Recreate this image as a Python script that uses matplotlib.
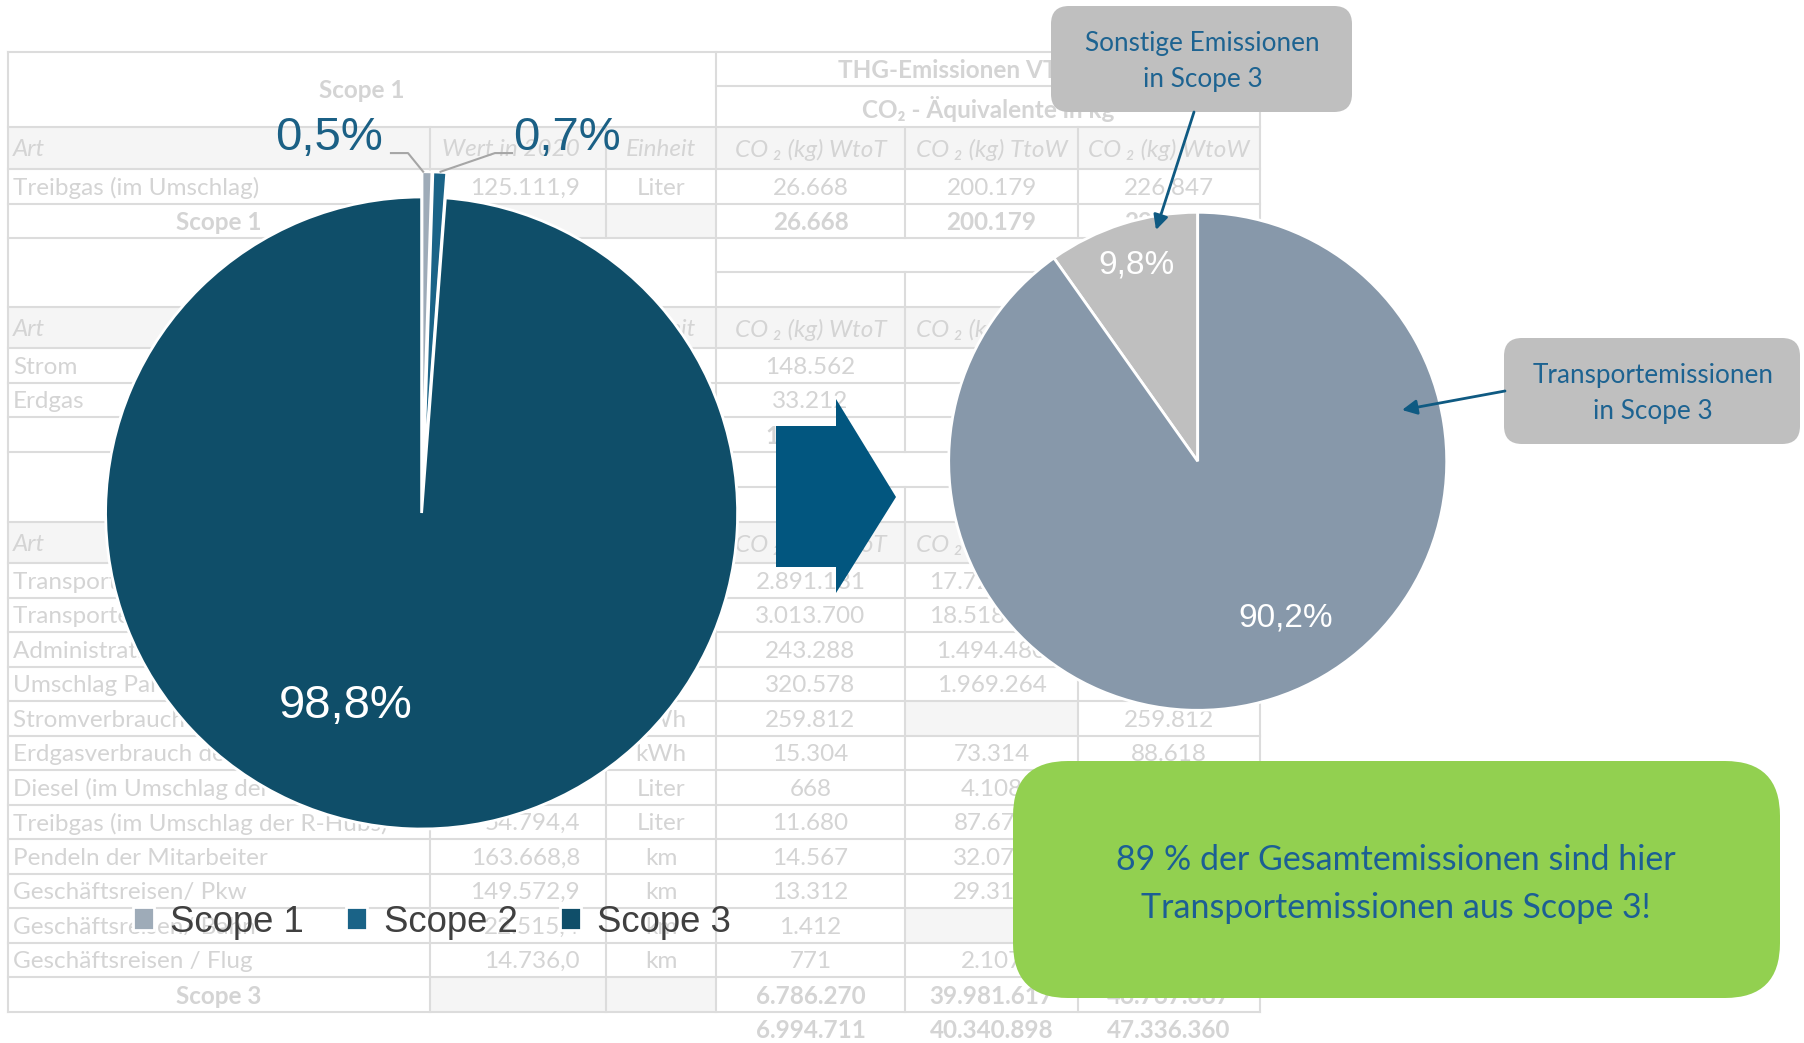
import matplotlib
matplotlib.use('Agg')
import matplotlib.pyplot as plt
from matplotlib.patches import Rectangle, FancyBboxPatch, Polygon

# ---- chart data ----
scope_names = ['Scope 1', 'Scope 2', 'Scope 3']
scope_share = [0.5, 0.7, 98.8]
scope_colors = ['#9eabb8', '#1a6387', '#0f4e69']

s3_parts = ['Sonstige Emissionen\nin Scope 3', 'Transportemissionen\nin Scope 3']
s3_share = [9.8, 90.2]
s3_colors = ['#bfbfbf', '#8798aa']

message = '89 % der Gesamtemissionen sind hier\nTransportemissionen aus Scope 3!'

# ---- faded table behind the charts ----
head_cols = ['Art', 'Wert in 2020', 'Einheit', 'CO ₂ (kg) WtoT', 'CO ₂ (kg) TtoW', 'CO ₂ (kg) WtoW']
s1_art = ['Treibgas (im Umschlag)']
s1_wert = ['125.111,9']
s1_unit = ['Liter']
s1_wtot = ['26.668']
s1_ttow = ['200.179']
s1_wtow = ['226.847']
s1_sum = ['26.668', '200.179', '226.847']

s2_art = ['Strom', 'Erdgas']
s2_wert = ['', '']
s2_unit = ['kWh', 'kWh']
s2_wtot = ['148.562', '33.212']
s2_ttow = ['', '']
s2_wtow = ['', '']
s2_sum = ['181.774', '', '']

s3_art = ['Transportemissionen Partner', 'Transporte eigene Flotte', 'Administration Partner',
          'Umschlag Partner', 'Stromverbrauch der R-Hubs', 'Erdgasverbrauch der R-Hubs',
          'Diesel (im Umschlag der R-Hubs)', 'Treibgas (im Umschlag der R-Hubs)',
          'Pendeln der Mitarbeiter', 'Geschäftsreisen/ Pkw', 'Geschäftsreisen/ Bahn',
          'Geschäftsreisen / Flug']
s3_wert = ['', '', '', '', '', '', '', '54.794,4', '163.668,8', '149.572,9', '22.515,4', '14.736,0']
s3_unit = ['', '', '', '', 'kWh', 'kWh', 'Liter', 'Liter', 'km', 'km', 'km', 'km']
s3_wtot = ['2.891.181', '3.013.700', '243.288', '320.578', '259.812', '15.304', '668',
           '11.680', '14.567', '13.312', '1.412', '771']
s3_ttow = ['17.726.311', '18.518.005', '1.494.480', '1.969.264', '', '73.314', '4.108',
           '87.671', '32.074', '29.313', '', '2.107']
s3_wtow = ['', '', '', '', '259.812', '88.618', '', '', '', '', '', '']
s3_sum = ['6.786.270', '39.981.617', '46.767.887']
totals = ['6.994.711', '40.340.898', '47.336.360']

W, H = 1804, 1043
fig = plt.figure(figsize=(W / 100, H / 100), dpi=100)

TFONT = ['Lato', 'DejaVu Sans']
PFONT = ['Liberation Sans', 'DejaVu Sans']
TSIZE = 17.5
tcol = '#d4d4d4'
lcol = '#dcdcdc'
fill = '#f5f5f5'

# background axes in pixel coords
bg = fig.add_axes([0, 0, 1, 1])
bg.set_xlim(0, W)
bg.set_ylim(H, 0)
bg.axis('off')
bg.set_zorder(0)

X = [8, 430, 606, 716, 905, 1078, 1260]
RH = 34.5


def put(col, yc, s, bold=False, italic=False):
    if not s:
        return
    if col == 0:
        x, ha = X[0] + 5, 'left'
    elif col == 1:
        x, ha = 580, 'right'
    else:
        x, ha = (X[col] + X[col + 1]) / 2, 'center'
    bg.text(x, yc + 2, s, ha=ha, va='center', fontsize=TSIZE, color=tcol, family=TFONT,
            fontweight='bold' if bold else 'normal', fontstyle='italic' if italic else 'normal')


def box(x0, x1, y0, y1):
    bg.add_patch(Rectangle((x0, y0), x1 - x0, y1 - y0, color=fill, lw=0))


# grey cells
for y0, y1 in [(127, 169), (307, 348), (522, 563)]:
    box(X[0], X[6], y0, y1)
box(X[1], X[3], 204, 238)
box(X[1], X[3], 417, 451.5)
box(X[1], X[3], 977, 1011.5)
box(X[4], X[5], 563 + 4 * RH, 563 + 5 * RH)
box(X[4], X[5], 563 + 10 * RH, 563 + 11 * RH)

# grid lines
hlines = [(52, 0, 6), (86, 3, 6), (127, 0, 6), (169, 0, 6), (204, 0, 6), (238, 0, 6),
          (272, 3, 6), (307, 0, 6), (348, 0, 6), (382.5, 0, 6), (417, 0, 6), (451.5, 0, 6),
          (487, 3, 6), (522, 0, 6)]
hlines += [(563 + i * RH, 0, 6) for i in range(14)]
for y, a, b in hlines:
    bg.plot([X[a], X[b]], [y, y], color=lcol, lw=1.5)
for x in [X[0], X[3], X[6]]:
    bg.plot([x, x], [52, 1011.5], color=lcol, lw=1.5)
for x in [X[1], X[2], X[4], X[5]]:
    for y0, y1 in [(127, 238), (307, 451.5), (522, 1011.5)]:
        bg.plot([x, x], [y0, y1], color=lcol, lw=1.5)
for y0, y1 in [(272, 307), (487, 522)]:
    bg.plot([X[4], X[4]], [y0, y1], color=lcol, lw=1.5)

# header text
bg.text((X[0] + X[3]) / 2, 91, 'Scope 1', ha='center', va='center', fontsize=TSIZE,
        color=tcol, family=TFONT, fontweight='bold')
bg.text((X[3] + X[6]) / 2, 70, 'THG-Emissionen VTG 2020', ha='center', va='center',
        fontsize=TSIZE, color=tcol, family=TFONT, fontweight='bold')
bg.text((X[3] + X[6]) / 2, 109, 'CO₂ - Äquivalente in kg', ha='center', va='center',
        fontsize=TSIZE, color=tcol, family=TFONT, fontweight='bold')

for yc in [148, 327.5, 542.5]:
    for c, s in enumerate(head_cols):
        put(c, yc, s, italic=True)


def section(y0, art, wert, unit, wtot, ttow, wtow):
    for i in range(len(art)):
        yc = y0 + (i + 0.5) * RH
        for c, s in enumerate([art[i], wert[i], unit[i], wtot[i], ttow[i], wtow[i]]):
            put(c, yc, s)


section(169, s1_art, s1_wert, s1_unit, s1_wtot, s1_ttow, s1_wtow)
section(348, s2_art, s2_wert, s2_unit, s2_wtot, s2_ttow, s2_wtow)
section(563, s3_art, s3_wert, s3_unit, s3_wtot, s3_ttow, s3_wtow)

for yc, name, vals in [(221, 'Scope 1', s1_sum), (434, 'Scope 2', s2_sum),
                       (994, 'Scope 3', s3_sum), (1028, '', totals)]:
    if name:
        bg.text((X[0] + X[1]) / 2, yc + 2, name, ha='center', va='center', fontsize=TSIZE,
                color=tcol, family=TFONT, fontweight='bold')
    for c, s in enumerate(vals):
        put(c + 3, yc, s, bold=True)


# ---- pies ----
def pie_axes(cx, cy, r, lim=1.3):
    side = 2 * r * lim
    a = fig.add_axes([(cx - side / 2) / W, 1 - (cy + side / 2) / H, side / W, side / H])
    a.set_zorder(2)
    return a


def pct(v):
    return f'{v:.1f}%'.replace('.', ',')


ax1 = pie_axes(421.6, 513, 316)
wedges1, _ = ax1.pie(scope_share, colors=scope_colors, startangle=90, counterclock=False,
                     explode=[0.08, 0.08, 0], wedgeprops=dict(edgecolor='white', linewidth=2))
ax1.set_xlim(-1.3, 1.3)
ax1.set_ylim(-1.3, 1.3)
ax1.text(-0.24, -0.61, pct(scope_share[2]), ha='center', va='center', fontsize=34,
         color='white', family=PFONT)
ax1.text(-0.293, 1.187, pct(scope_share[0]), ha='center', va='center', fontsize=34,
         color='#1b6085', family=PFONT)
ax1.text(0.461, 1.187, pct(scope_share[1]), ha='center', va='center', fontsize=34,
         color='#1b6085', family=PFONT)
ax1.plot([-0.097, -0.043, 0.005], [1.139, 1.139, 1.08], color='#a6a6a6', lw=1.5, clip_on=False)
ax1.plot([0.286, 0.232, 0.06], [1.139, 1.139, 1.08], color='#a6a6a6', lw=1.5, clip_on=False)

leg = ax1.legend(wedges1, scope_names, loc='center', bbox_to_anchor=(432 / W, 1 - 922 / H),
                 bbox_transform=fig.transFigure, ncol=3, frameon=False,
                 prop={'family': PFONT, 'size': 26.3}, handlelength=0.58, handleheight=0.58,
                 handletextpad=0.45, columnspacing=1.15)
for t in leg.get_texts():
    t.set_color('#404040')

ax2 = pie_axes(1197.7, 461.3, 249)
wedges2, _ = ax2.pie(s3_share, colors=s3_colors, startangle=90, counterclock=True,
                     wedgeprops=dict(edgecolor='white', linewidth=2))
ax2.set_xlim(-1.3, 1.3)
ax2.set_ylim(-1.3, 1.3)
ax2.text(-0.245, 0.79, pct(s3_share[0]), ha='center', va='center', fontsize=24,
         color='white', family=PFONT)
ax2.text(0.355, -0.628, pct(s3_share[1]), ha='center', va='center', fontsize=24,
         color='white', family=PFONT)

# ---- overlay: block arrow, callouts, message ----
ov = fig.add_axes([0, 0, 1, 1])
ov.set_xlim(0, W)
ov.set_ylim(H, 0)
ov.axis('off')
ov.set_zorder(5)

ov.add_patch(Polygon([(776, 426), (836, 426), (836, 399), (896, 497), (836, 593), (836, 567),
                      (776, 567)], closed=True, color='#02567f', lw=0))

callout_col = '#1d6391'
for (x0, y0, x1, y1), label, tail, tip in [
        ((1051, 6, 1352, 112), s3_parts[0], (1194, 112), (1156, 230)),
        ((1504, 338, 1800, 444), s3_parts[1], (1505, 391), (1402, 410))]:
    ov.add_patch(FancyBboxPatch((x0, y0), x1 - x0, y1 - y0,
                                boxstyle='round,pad=0,rounding_size=18', fc='#bfbfbf', ec='none'))
    ov.text((x0 + x1) / 2 + 1, (y0 + y1) / 2 + 2, label, ha='center', va='center',
            fontsize=18.8, color=callout_col, family=TFONT, linespacing=1.55)
    ov.annotate('', xy=tip, xytext=tail,
                arrowprops=dict(arrowstyle='-|>', color='#0f5a82', lw=2, mutation_scale=22,
                                shrinkA=0, shrinkB=0))

ov.add_patch(FancyBboxPatch((1013, 761), 767, 237, boxstyle='round,pad=0,rounding_size=55',
                            fc='#92d050', ec='none'))
ov.text(1396, 884, message, ha='center', va='center', fontsize=24.5, color='#1c5f94',
        family=TFONT, linespacing=1.6)

fig.savefig('out.png', dpi=100)
